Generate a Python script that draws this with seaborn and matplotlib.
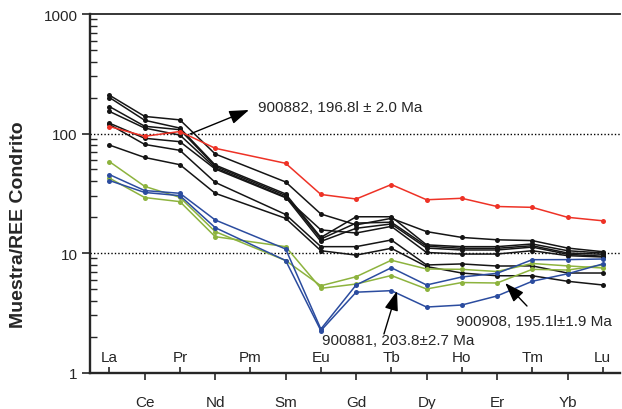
import numpy as np
import pandas as pd
import matplotlib
matplotlib.use("Agg")
import matplotlib.pyplot as plt
from matplotlib.ticker import FixedLocator, LogLocator, NullFormatter
import seaborn as sns

# Chondrite-normalised REE patterns (Pm not analysed)
elements = ["La", "Ce", "Pr", "Nd", "Pm", "Sm", "Eu", "Gd", "Tb", "Dy", "Ho", "Er", "Tm", "Yb", "Lu"]
NA = np.nan

black_1 = [209, 139, 130, 67.4, NA, 39.3, 21.2, 17.2, 19.5, 15.1, 13.5, 12.9, 12.7, 11.0, 10.25]
black_2 = [200, 129, 111, 54.5, NA, 31.2, 13.5, 20.1, 20.1, 11.7, 11.3, 11.3, 11.9, 10.45, 10.0]
black_3 = [168, 115, 107.6, 53.2, NA, 30.3, 13.1, 17.8, 18.1, 11.4, 10.95, 10.95, 11.5, 10.0, 9.76]
black_4 = [153, 111, 97, 51.7, NA, 29.4, 12.5, 16.1, 17.5, 11.0, 10.6, 10.6, 11.2, 9.76, 9.4]
black_5 = [122, 91.2, 85.4, 50.5, NA, 29.0, 15.6, 14.7, 16.7, 10.1, 9.8, 9.8, 10.45, 9.5, 9.26]
black_6 = [119, 81, 72.3, 39.0, NA, 21.0, 11.3, 11.3, 12.85, 7.94, 8.1, 7.78, 7.8, 6.8, 6.8]
black_7 = [80, 63, 54.8, 31.6, NA, 19.5, 10.45, 9.6, 10.95, 7.7, 6.8, 6.45, 6.45, 5.8, 5.4]
green_1 = [58.1, 36.1, 29.2, 15.1, NA, 8.65, 5.32, 6.33, 8.7, 7.35, 7.3, 7.0, 8.17, 7.8, 7.49]
green_2 = [42.3, 29.1, 26.9, 13.7, NA, 11.3, 5.06, 5.5, 6.48, 5.0, 5.66, 5.61, 7.3, 7.2, 7.93]
blue_1 = [45.3, 33.3, 31.6, 18.9, NA, 10.8, 2.31, 5.4, 7.53, 5.4, 6.3, 6.76, 8.79, 8.8, 8.91]
blue_2 = [40.4, 32.1, 30.2, 16.3, NA, 8.65, 2.24, 4.7, 4.84, 3.53, 3.67, 4.37, 5.8, 6.7, 8.1]
red_1 = [114.4, 94.8, 103.9, 75.2, NA, 56.3, 30.9, 28.3, 37.4, 27.9, 28.7, 24.5, 24.1, 19.9, 18.6]

series = {
    "n1": black_1, "n2": black_2, "n3": black_3, "n4": black_4,
    "n5": black_5, "n6": black_6, "n7": black_7,
    "v1": green_1, "v2": green_2,
    "a1": blue_1, "a2": blue_2,
    "r1": red_1,
}
colors = {k: "#151515" for k in ["n1", "n2", "n3", "n4", "n5", "n6", "n7"]}
colors.update({"v1": "#8db33e", "v2": "#8db33e", "a1": "#2b4c9f", "a2": "#2b4c9f", "r1": "#ee3226"})

y_ticks = [1, 10, 100, 1000]
y_ticklabels = ["1", "10", "100", "1000"]
ref_lines = [10, 100]

labels = [
    ("900882, 196.8l \u00b1 2.0 Ma", (4.215, 166.6), (2.285, 99.0), (3.96, 157.3)),
    ("900908, 195.1l\u00b11.9 Ma", (9.835, 2.70), (11.85, 3.60), (11.23, 5.61)),
    ("900881, 203.8\u00b12.7 Ma", (6.03, 1.87), (7.79, 2.10), (8.16, 4.81)),
]

rows = []
for name, vals in series.items():
    for i, v in enumerate(vals):
        rows.append({"muestra": name, "pos": i, "valor": v})
df = pd.DataFrame(rows).dropna()

sns.set_style("ticks")
plt.rcParams["font.family"] = ["Liberation Sans", "DejaVu Sans"]

fig = plt.figure(figsize=(6.22, 4.10), dpi=100)
ax = fig.add_axes([90 / 622, 36.5 / 410, 530 / 622, 358.5 / 410])

for v in ref_lines:
    ax.axhline(v, color="black", lw=1.0, ls=(0, (1, 1.5)), zorder=1)

sns.lineplot(data=df, x="pos", y="valor", hue="muestra", palette=colors,
             hue_order=list(series.keys()), marker="o", markersize=3.6,
             markeredgewidth=0, linewidth=1.1, legend=False, ax=ax, zorder=3)

ax.set_yscale("log")
ax.set_ylim(1, 1000)
ax.set_xlim(-0.553, 14.49)
ax.set_xlabel("")

ax.yaxis.set_major_locator(FixedLocator(y_ticks))
ax.set_yticklabels(y_ticklabels)
ax.yaxis.set_minor_locator(LogLocator(base=10, subs=np.arange(2, 10)))
ax.yaxis.set_minor_formatter(NullFormatter())
ax.tick_params(axis="y", which="major", direction="out", length=6, width=1.2,
               labelsize=11, pad=3)
ax.tick_params(axis="y", which="minor", direction="in", length=5, width=1.0)

ax.set_xticks(range(0, 15, 2), labels=elements[0::2])
ax.set_xticks(range(1, 15, 2), labels=elements[1::2], minor=True)
ax.tick_params(axis="x", which="major", direction="in", length=4, width=1.2,
               labelsize=11, pad=-16)
ax.tick_params(axis="x", which="minor", direction="out", length=5, width=1.2,
               labelsize=11, pad=11)

for side in ["left", "bottom"]:
    ax.spines[side].set_linewidth(1.7)
ax.spines["top"].set_linewidth(1.3)
ax.spines["right"].set_visible(False)

ax.set_ylabel("Muestra/REE Condrito", fontsize=14, fontweight="bold")
ax.yaxis.set_label_coords(-0.119, 0.414)

for text, txy, tail, head in labels:
    ax.text(txy[0], txy[1], text, fontsize=11, ha="left", va="center", zorder=5)
    ax.annotate("", xy=head, xytext=tail,
                arrowprops=dict(arrowstyle="-|>,head_length=1.0,head_width=0.35",
                                mutation_scale=12, color="black", lw=1.0,
                                shrinkA=0, shrinkB=0), zorder=5)

fig.savefig("out.png", dpi=100)
